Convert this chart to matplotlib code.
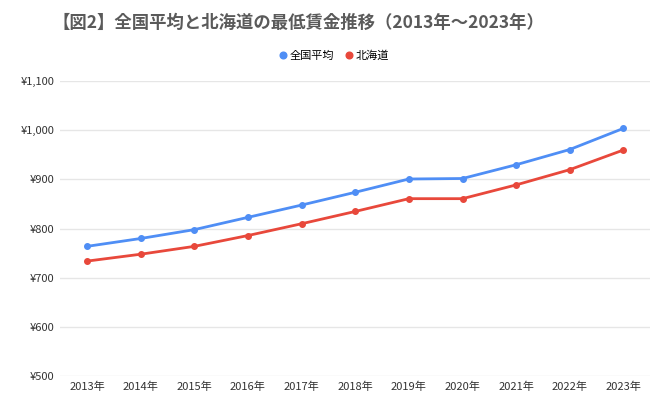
import matplotlib.pyplot as plt
from matplotlib.ticker import FuncFormatter

plt.rcParams['font.family'] = ['Noto Sans CJK JP', 'DejaVu Sans']

years = ['2013年', '2014年', '2015年', '2016年', '2017年', '2018年',
         '2019年', '2020年', '2021年', '2022年', '2023年']
national = [764, 780, 798, 823, 848, 874, 901, 902, 930, 961, 1004]
hokkaido = [734, 748, 764, 786, 810, 835, 861, 861, 889, 920, 960]
series_names = ['全国平均', '北海道']

fig = plt.figure(figsize=(6.69, 4.12), dpi=100)
ax = fig.add_axes([0.09, 0.087, 0.882, 0.716])

x = range(len(years))
ax.plot(x, national, color='#4f8ef5', lw=2, marker='o', ms=4, label=series_names[0])
ax.plot(x, hokkaido, color='#e8483b', lw=2, marker='o', ms=4, label=series_names[1])

ax.set_ylim(500, 1100)
ax.set_yticks(range(500, 1101, 100))
ax.yaxis.set_major_formatter(FuncFormatter(lambda v, p: f'¥{int(v):,}'))
ax.set_xlim(-0.5, len(years) - 0.5)
ax.set_xticks(list(x))
ax.set_xticklabels(years)
ax.tick_params(length=0, labelsize=8, colors='#333333', pad=4)
ax.grid(axis='y', color='#e6e6e6', lw=1)
for s in ax.spines.values():
    s.set_visible(False)
ax.set_axisbelow(True)

fig.text(0.078, 0.945, '【図2】全国平均と北海道の最低賃金推移（2013年～2023年）',
         fontsize=12.5, fontweight='bold', color='#5a5a5a', va='center')
fig.legend(loc='center', bbox_to_anchor=(0.5, 0.865), ncol=2, frameon=False,
           fontsize=8, handlelength=0.6, handletextpad=0.3, columnspacing=1.0,
           markerscale=1.2)
for h in fig.legends[0].legend_handles:
    h.set_linestyle('none')

fig.savefig('out.png', dpi=100)
